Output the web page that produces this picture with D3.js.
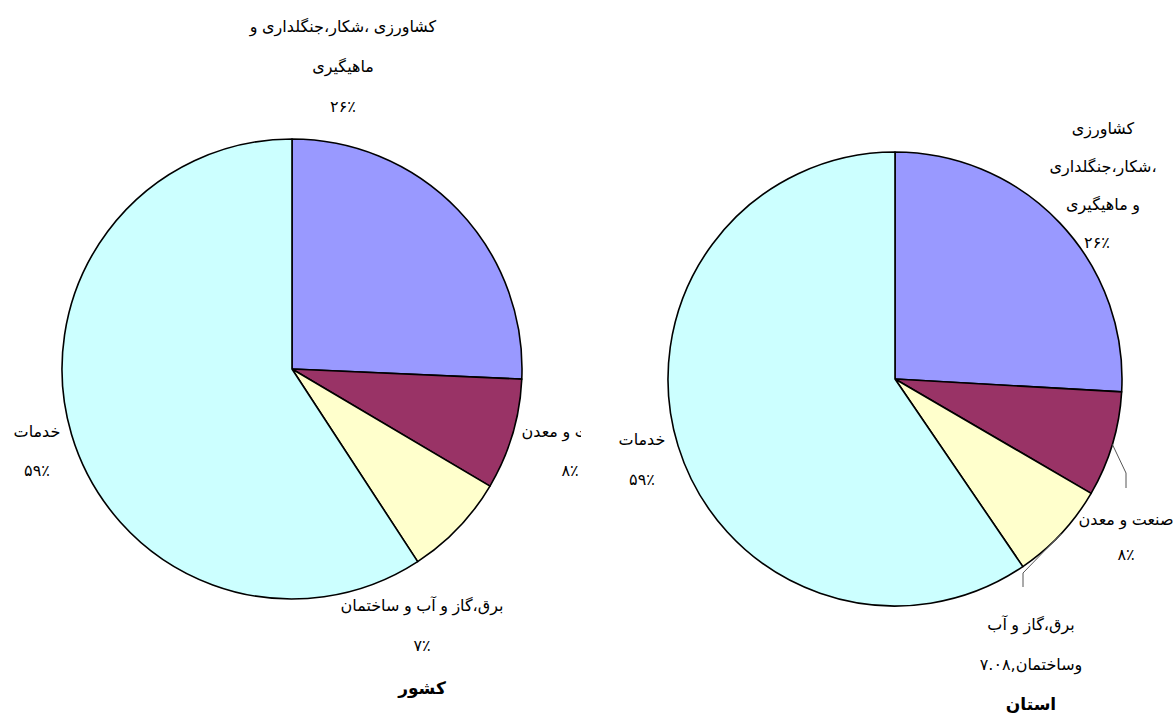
<!DOCTYPE html>
<html>
<head>
<meta charset="utf-8">
<script src="https://cdn.jsdelivr.net/npm/d3@7"></script>
<style>
  body { margin: 0; background: #fff; }
  svg text { font-family: "DejaVu Sans", sans-serif; font-size: 16px; fill: #000; }
  svg text.title { font-weight: bold; font-size: 17px; }
</style>
</head>
<body>
<div id="chart"></div>
<script>
// sectors (agriculture, industry, utilities+construction, services)
const categories = ["کشاورزی، شکار، جنگلداری و ماهیگیری", "صنعت و معدن", "برق، گاز و آب و ساختمان", "خدمات"];
const countryValues = [25.7, 7.8, 7.3, 59.2];
const provinceValues = [25.9, 7.5, 7.08, 59.52];
const sliceColors = ["#9999ff", "#993366", "#ffffcc", "#ccffff"];

// label lines as they appear in the chart
const countryLabels = [
    ["کشاورزی ،شکار،جنگلداری و", "ماهیگیری", "۲۶٪"],
    ["صنعت و معدن", "۸٪"],
    ["برق،گاز و آب و ساختمان", "۷٪"],
    ["خدمات", "۵۹٪"]
];
const provinceLabels = [
    ["کشاورزی", "،شکار،جنگلداری", "و ماهیگیری", "۲۶٪"],
    ["صنعت و معدن", "۸٪"],
    ["برق،گاز و آب", "وساختمان,۷.۰۸"],
    ["خدمات", "۵۹٪"]
];
const titles = ["کشور", "استان"];

// the old chart lays words out left to right, so each word gets its own text
// element; the tokens come out of the string reversed, so they get flipped
const letters = "\u0621-\u064A\u067E\u0686\u0698\u06A9\u06AF\u06CC";
const tokenRe = new RegExp(`[${letters}]+|\\s+|[۰-۹0-9.٪%]+|[^\\s${letters}]`, "g");
const visualTokens = s => s.match(tokenRe).reverse();

const svg = d3.select("#chart").append("svg")
    .attr("width", 1173)
    .attr("height", 713);

// left chart's plot area ends here and cuts its industry label
svg.append("clipPath").attr("id", "clip-left")
    .append("rect").attr("x", 0).attr("y", 0).attr("width", 581).attr("height", 713);

function visualText(parent, str, x, y, anchor) {
    const tokens = visualTokens(str);
    const line = parent.append("g");
    let cursor = 0;
    tokens.forEach(t => {
        if (/^\s+$/.test(t)) { cursor += 4.5; return; }
        const el = line.append("text")
            .attr("x", cursor)
            .attr("y", 0)
            .text(t);
        cursor += el.node().getComputedTextLength();
    });
    const shift = anchor === "middle" ? -cursor / 2 : anchor === "end" ? -cursor : 0;
    line.attr("transform", `translate(${x + shift},${y})`);
}

const pies = [
    {
        values: countryValues, labels: countryLabels, title: titles[0],
        cx: 292, cy: 369, r: 230, clip: "url(#clip-left)",
        // label anchor [x, first baseline, line step]
        pos: [[343, 32, 40], [569, 437, 39], [422, 611, 40], [37, 437, 39]],
        pctX: [null, 570, null, null],
        titlePos: [422, 694],
        leaders: []
    },
    {
        values: provinceValues, labels: provinceLabels, title: titles[1],
        cx: 895, cy: 379, r: 227, clip: null,
        pos: [[1103, 134, 38], [1126, 525, 35], [1031, 630, 40], [642, 445, 40]],
        pctX: [1097, null, null, null],
        titlePos: [1031, 710],
        leaders: [[1, 1126, 473, 488], [2, 1023, 573, 587]]
    }
];

pies.forEach(p => {
    const g = svg.append("g");
    if (p.clip) g.attr("clip-path", p.clip);

    const pie = d3.pie().sort(null).value(d => d);
    const arc = d3.arc().innerRadius(0).outerRadius(p.r);
    const arcs = pie(p.values);

    const slices = g.append("g").attr("transform", `translate(${p.cx},${p.cy})`);
    slices.selectAll("path")
        .data(arcs)
        .join("path")
        .attr("d", arc)
        .attr("fill", (d, i) => sliceColors[i])
        .attr("stroke", "#000")
        .attr("stroke-width", 1.6)
        .attr("stroke-linejoin", "round");

    // leader lines: edge of slice -> elbow -> down
    p.leaders.forEach(([i, x, yElbow, yEnd]) => {
        const a = (arcs[i].startAngle + arcs[i].endAngle) / 2;
        const sx = p.cx + p.r * Math.sin(a);
        const sy = p.cy - p.r * Math.cos(a);
        g.append("polyline")
            .attr("points", `${sx},${sy} ${x},${yElbow} ${x},${yEnd}`)
            .attr("fill", "none")
            .attr("stroke", "#555")
            .attr("stroke-width", 1);
    });

    p.labels.forEach((lines, i) => {
        const [x, y0, step] = p.pos[i];
        lines.forEach((t, j) => {
            const isPct = j === lines.length - 1 && p.pctX[i] != null;
            visualText(g, t, isPct ? p.pctX[i] : x, y0 + j * step, "middle");
        });
    });

    g.append("text")
        .attr("class", "title")
        .attr("x", p.titlePos[0])
        .attr("y", p.titlePos[1])
        .attr("text-anchor", "middle")
        .text(p.title);
});
</script>
</body>
</html>
